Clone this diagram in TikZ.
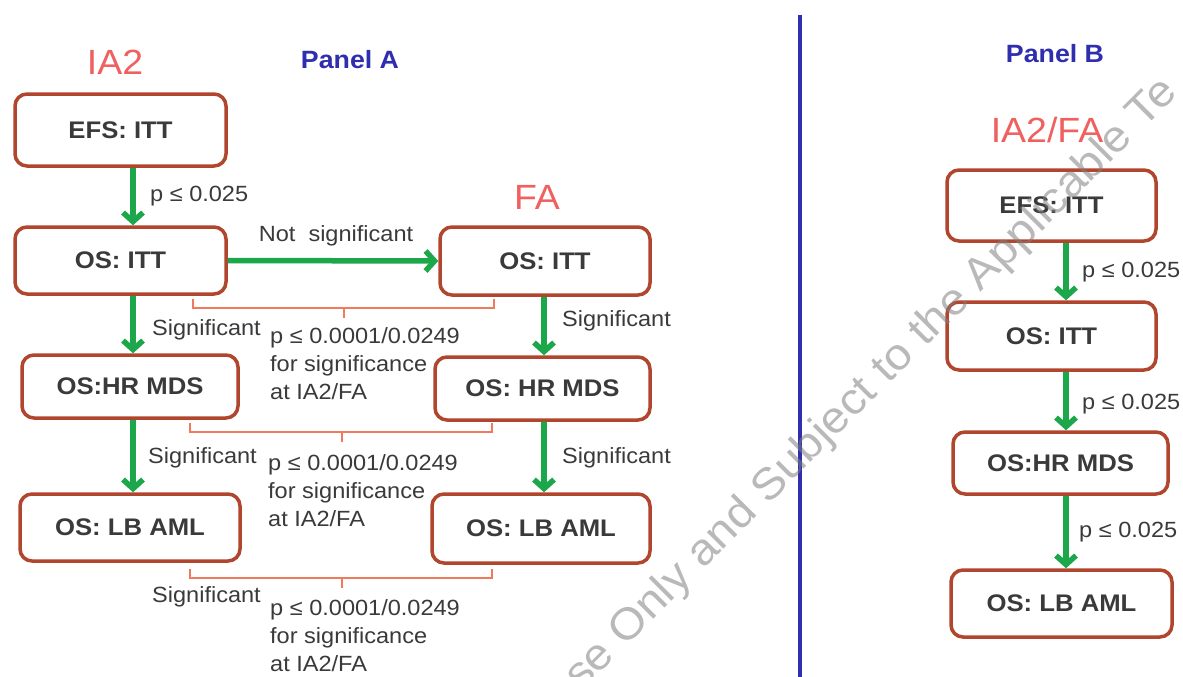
\documentclass[tikz,border=0pt]{standalone}
\usepackage{fontspec}
\setmainfont{Liberation Sans}[FakeStretch=1.07]
\usetikzlibrary{arrows.meta,calc}
\definecolor{rust}{HTML}{B0462E}
\definecolor{grn}{HTML}{1CA84A}
\definecolor{lblred}{HTML}{F0605F}
\definecolor{pblue}{HTML}{2E2EAE}
\definecolor{brk}{HTML}{F07A5C}
\definecolor{txt}{HTML}{3A3A3A}
\tikzset{
  box/.style={draw=rust, line width=3.5pt, rounded corners=12pt, fill=white, inner sep=0pt,
    text=txt, font=\bfseries\fontsize{24}{28}\selectfont},
  arr/.style={draw=grn, line width=5.5pt, -{Straight Barb[length=9pt,width=20pt]}},
  lbl/.style={text=txt, font=\fontsize{22}{28}\selectfont, inner sep=0pt},
  blk/.style={lbl, align=left, anchor=north west},
  brack/.style={draw=brk, line width=1.3pt},
  stage/.style={text=lblred, font=\fontsize{35}{40}\selectfont, inner sep=0pt},
  panel/.style={text=pblue, font=\bfseries\fontsize{25}{28}\selectfont, inner sep=0pt},
  wm/.style={text=gray, opacity=0.55, font=\fontsize{44}{50}\selectfont, inner sep=0pt}
}
\begin{document}
\begin{tikzpicture}[x=1pt,y=-1pt]
\clip (0,0) rectangle (1183,677);
\fill[white] (0,0) rectangle (1183,677);

% titles
\node[stage] (tIA2) at (115,62) {IA2};
\node[panel] (tPA) at (350,60) {Panel A};
\node[stage] (tFA) at (537,197) {FA};
\node[panel] (tPB) at (1055,54) {Panel B};
\node[stage] (tIAFA) at (1047,130) {IA2/FA};

% divider
\draw[pblue, line width=4pt] (800,15) -- (800,677);

% Panel A boxes
\node[box, minimum width=211pt, minimum height=72pt] (A1) at (120.5,130) {EFS: ITT};
\node[box, minimum width=211pt, minimum height=67pt] (A2) at (120.5,260.5) {OS: ITT};
\node[box, minimum width=216pt, minimum height=63pt] (A3) at (130,386.5) {OS:HR MDS};
\node[box, minimum width=220pt, minimum height=67pt] (A4) at (130,527.5) {OS: LB AML};
\node[box, minimum width=210pt, minimum height=68pt] (F2) at (545,261) {OS: ITT};
\node[box, minimum width=215pt, minimum height=63pt] (F3) at (542.5,388.5) {OS: HR MDS};
\node[box, minimum width=218pt, minimum height=69pt] (F4) at (541,528.5) {OS: LB AML};

% Panel B boxes
\node[box, minimum width=209pt, minimum height=71pt] (B1) at (1051.5,205.5) {EFS: ITT};
\node[box, minimum width=209pt, minimum height=68pt] (B2) at (1051.5,336) {OS: ITT};
\node[box, minimum width=215pt, minimum height=62pt] (B3) at (1060.5,463) {OS:HR MDS};
\node[box, minimum width=221pt, minimum height=67pt] (B4) at (1061.5,603.5) {OS: LB AML};

% arrow columns
\coordinate (cl) at (133,0);
\coordinate (cr) at (544,0);
\coordinate (cb) at (1066,0);

\draw[arr] (A1.south -| cl) -- (A2.north -| cl);
\draw[arr] (A2.south -| cl) -- (A3.north -| cl);
\draw[arr] (A3.south -| cl) -- (A4.north -| cl);
\draw[arr] (A2.east) -- (F2.west);
\draw[arr] (F2.south -| cr) -- (F3.north -| cr);
\draw[arr] (F3.south -| cr) -- (F4.north -| cr);
\draw[arr] (B1.south -| cb) -- (B2.north -| cb);
\draw[arr] (B2.south -| cb) -- (B3.north -| cb);
\draw[arr] (B3.south -| cb) -- (B4.north -| cb);

% brackets
\draw[brack] (193,299) -- (193,308) -- (494,308) -- (494,299);
\draw[brack] (344,308) -- (344,318);
\draw[brack] (190,423) -- (190,432) -- (492,432) -- (492,423);
\draw[brack] (342,432) -- (342,442);
\draw[brack] (190,569) -- (190,578) -- (492,578) -- (492,569);
\draw[brack] (342,578) -- (342,588);

% arrow labels Panel A
\node[lbl, anchor=west] (l1) at (150,196) {p ≤ 0.025};
\node[lbl] (l2) at (336,236) {Not\ \ significant};
\node[lbl, anchor=west] (l3) at (152,330) {Significant};
\node[lbl, anchor=west] (l4) at (148,458) {Significant};
\node[lbl, anchor=west] (l5) at (152,597) {Significant};
\node[lbl, anchor=west] (l6) at (562,321) {Significant};
\node[lbl, anchor=west] (l7) at (562,458) {Significant};

\node[blk] (k1) at (270,327) {p ≤ 0.0001/0.0249\\for significance\\at IA2/FA};
\node[blk] (k2) at (268,454) {p ≤ 0.0001/0.0249\\for significance\\at IA2/FA};
\node[blk] (k3) at (270,599) {p ≤ 0.0001/0.0249\\for significance\\at IA2/FA};

% Panel B labels
\node[lbl, anchor=west] (m1) at (1082,272) {p ≤ 0.025};
\node[lbl, anchor=west] (m2) at (1082,404) {p ≤ 0.025};
\node[lbl, anchor=west] (m3) at (1079,532) {p ≤ 0.025};

% watermark
\node[wm, rotate=45] (wm) at (872,385) {se Only and Subject to the Applicable Te};
\end{tikzpicture}
\end{document}
